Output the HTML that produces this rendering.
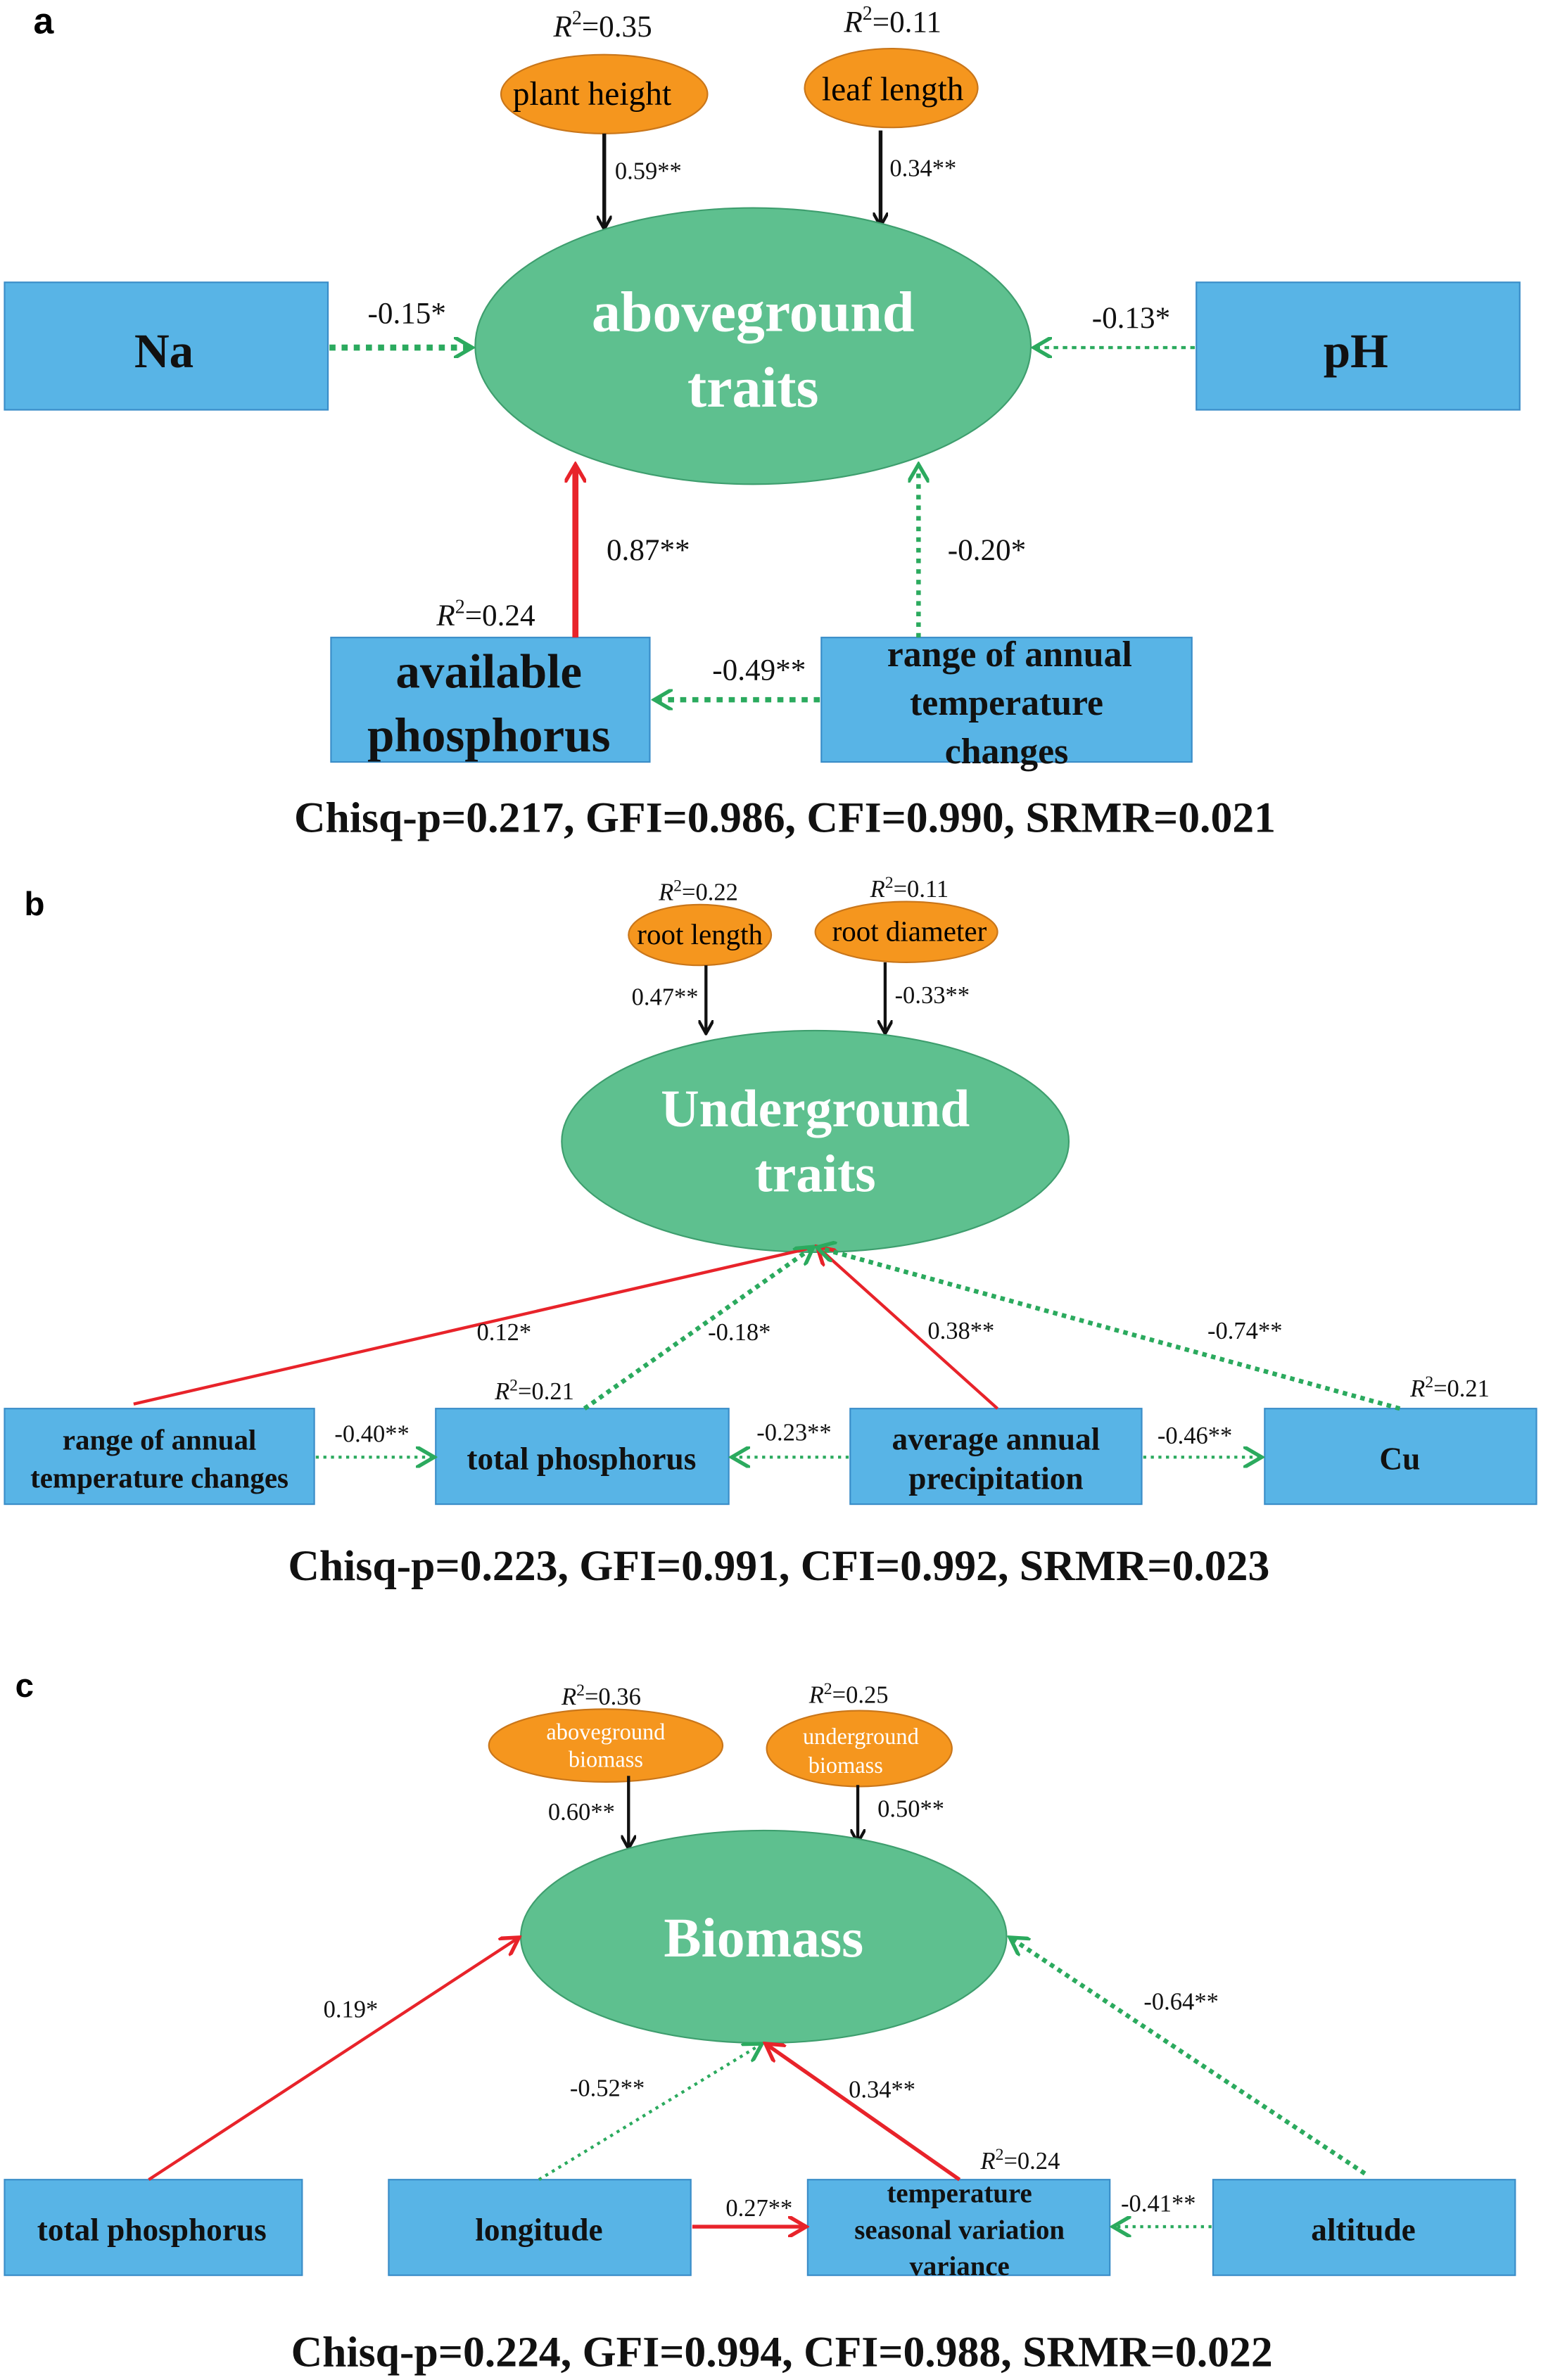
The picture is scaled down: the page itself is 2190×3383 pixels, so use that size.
<!DOCTYPE html>
<html><head><meta charset="utf-8"><style>
html,body{margin:0;padding:0;background:#fff}
svg{display:block}
text{font-family:"Liberation Serif",serif}
.lbl{font-size:20px;fill:#111}
.sm{font-size:16px;fill:#111}
.box{fill:#58B4E6;stroke:#3A8DC8;stroke-width:1}
.org{fill:#F5961E;stroke:#C9761A;stroke-width:1}
.big{fill:#5EC08F;stroke:#3E9E6E;stroke-width:1}
.wt{fill:#fff;font-weight:bold}
.bt{fill:#111;font-weight:bold}
</style></head><body>
<svg width="2190" height="3383" viewBox="0 0 1015 1568" preserveAspectRatio="none" xmlns="http://www.w3.org/2000/svg">
<defs>
<marker id="ab" markerWidth="10" markerHeight="10" refX="8" refY="5" orient="auto" markerUnits="userSpaceOnUse"><path d="M0,0 L9,5 L0,10" fill="none" stroke="#111" stroke-width="2"/></marker>
<marker id="ar" markerWidth="14" markerHeight="14" refX="11" refY="7" orient="auto" markerUnits="userSpaceOnUse"><path d="M0,0 L12,7 L0,14" fill="none" stroke="#E8232A" stroke-width="2.5"/></marker>
<marker id="ag" markerWidth="14" markerHeight="14" refX="11" refY="7" orient="auto" markerUnits="userSpaceOnUse"><path d="M0,0 L12,7 L0,14" fill="none" stroke="#2BAA5E" stroke-width="2.5"/></marker>
</defs>
<!-- Panel a -->
<text x="22" y="22" font-weight="bold" font-size="24" style="font-family:'Liberation Sans',sans-serif">a</text>
<text x="397" y="24" class="lbl" text-anchor="middle"><tspan font-style="italic">R</tspan><tspan font-size="13" dy="-8">2</tspan><tspan dy="8">=0.35</tspan></text>
<text x="588" y="21" class="lbl" text-anchor="middle"><tspan font-style="italic">R</tspan><tspan font-size="13" dy="-8">2</tspan><tspan dy="8">=0.11</tspan></text>
<ellipse cx="398" cy="62" rx="68" ry="26" class="org"/>
<text x="390" y="69" font-size="22" text-anchor="middle">plant height</text>
<ellipse cx="587" cy="58" rx="57" ry="26" class="org"/>
<text x="588" y="66" font-size="22" text-anchor="middle">leaf length</text>
<line x1="398" y1="88" x2="398" y2="150" stroke="#111" stroke-width="2.5" marker-end="url(#ab)"/>
<text x="405" y="118" class="sm" font-size="19">0.59**</text>
<line x1="580" y1="86" x2="580" y2="148" stroke="#111" stroke-width="2.5" marker-end="url(#ab)"/>
<text x="586" y="116" class="sm" font-size="19">0.34**</text>
<ellipse cx="496" cy="228" rx="183" ry="91" class="big"/>
<text x="496" y="218" class="wt" font-size="38" text-anchor="middle">aboveground</text>
<text x="496" y="268" class="wt" font-size="38" text-anchor="middle">traits</text>
<rect x="3" y="186" width="213" height="84" class="box"/>
<text x="108" y="242" class="bt" font-size="32" text-anchor="middle">Na</text>
<rect x="788" y="186" width="213" height="84" class="box"/>
<text x="893" y="242" class="bt" font-size="32" text-anchor="middle">pH</text>
<line x1="217" y1="229" x2="310" y2="229" stroke="#2BAA5E" stroke-width="4" stroke-dasharray="4,4" marker-end="url(#ag)"/>
<text x="268" y="213" class="lbl" font-size="23" text-anchor="middle">-0.15*</text>
<line x1="787" y1="229" x2="682" y2="229" stroke="#2BAA5E" stroke-width="2" stroke-dasharray="3,3" marker-end="url(#ag)"/>
<text x="745" y="216" class="lbl" font-size="23" text-anchor="middle">-0.13*</text>
<rect x="218" y="420" width="210" height="82" class="box"/>
<text x="322" y="453" class="bt" font-size="32" text-anchor="middle">available</text>
<text x="322" y="495" class="bt" font-size="32" text-anchor="middle">phosphorus</text>
<text x="320" y="412" class="lbl" text-anchor="middle"><tspan font-style="italic">R</tspan><tspan font-size="13" dy="-8">2</tspan><tspan dy="8">=0.24</tspan></text>
<line x1="379" y1="420" x2="379" y2="307" stroke="#E8232A" stroke-width="4" marker-end="url(#ar)"/>
<text x="427" y="369" class="lbl" font-size="24" text-anchor="middle">0.87**</text>
<rect x="541" y="420" width="244" height="82" class="box"/>
<text x="665" y="439" class="bt" font-size="24" text-anchor="middle">range of annual</text>
<text x="663" y="471" class="bt" font-size="24" text-anchor="middle">temperature</text>
<text x="663" y="503" class="bt" font-size="24" text-anchor="middle">changes</text>
<line x1="605" y1="420" x2="605" y2="307" stroke="#2BAA5E" stroke-width="3" stroke-dasharray="3,4" marker-end="url(#ag)"/>
<text x="650" y="369" class="lbl" font-size="24" text-anchor="middle">-0.20*</text>
<line x1="540" y1="461" x2="432" y2="461" stroke="#2BAA5E" stroke-width="3.5" stroke-dasharray="4,4" marker-end="url(#ag)"/>
<text x="500" y="448" class="lbl" font-size="24" text-anchor="middle">-0.49**</text>
<text x="517" y="548" class="bt" font-size="28.6" text-anchor="middle">Chisq-p=0.217, GFI=0.986, CFI=0.990, SRMR=0.021</text>

<!-- Panel b -->
<text x="16" y="603" font-weight="bold" font-size="22" style="font-family:'Liberation Sans',sans-serif">b</text>
<text x="460" y="593" class="sm" text-anchor="middle"><tspan font-style="italic">R</tspan><tspan font-size="11" dy="-6">2</tspan><tspan dy="6">=0.22</tspan></text>
<text x="599" y="591" class="sm" text-anchor="middle"><tspan font-style="italic">R</tspan><tspan font-size="11" dy="-6">2</tspan><tspan dy="6">=0.11</tspan></text>
<ellipse cx="461" cy="616" rx="47" ry="20" class="org"/>
<text x="461" y="622" font-size="19" text-anchor="middle">root length</text>
<ellipse cx="597" cy="614" rx="60" ry="20" class="org"/>
<text x="599" y="620" font-size="19" text-anchor="middle">root diameter</text>
<line x1="465" y1="636" x2="465" y2="680" stroke="#111" stroke-width="2" marker-end="url(#ab)"/>
<text x="438" y="662" class="sm" text-anchor="middle">0.47**</text>
<line x1="583" y1="634" x2="583" y2="680" stroke="#111" stroke-width="2" marker-end="url(#ab)"/>
<text x="614" y="661" class="sm" text-anchor="middle">-0.33**</text>
<ellipse cx="537" cy="752" rx="167" ry="73" class="big"/>
<text x="537" y="742" class="wt" font-size="35" text-anchor="middle">Underground</text>
<text x="537" y="785" class="wt" font-size="35" text-anchor="middle">traits</text>
<rect x="3" y="928" width="204" height="63" class="box"/>
<text x="105" y="955" class="bt" font-size="19" text-anchor="middle">range of annual</text>
<text x="105" y="980" class="bt" font-size="19" text-anchor="middle">temperature changes</text>
<rect x="287" y="928" width="193" height="63" class="box"/>
<text x="383" y="968" class="bt" font-size="21" text-anchor="middle">total phosphorus</text>
<rect x="560" y="928" width="192" height="63" class="box"/>
<text x="656" y="955" class="bt" font-size="21" text-anchor="middle">average annual</text>
<text x="656" y="981" class="bt" font-size="21" text-anchor="middle">precipitation</text>
<rect x="833" y="928" width="179" height="63" class="box"/>
<text x="922" y="968" class="bt" font-size="21" text-anchor="middle">Cu</text>
<line x1="88" y1="925" x2="535" y2="822" stroke="#E8232A" stroke-width="2"/>
<text x="332" y="883" class="sm" font-size="18" text-anchor="middle">0.12*</text>
<line x1="385" y1="928" x2="535" y2="822" stroke="#2BAA5E" stroke-width="3" stroke-dasharray="3,3" marker-end="url(#ag)"/>
<text x="487" y="883" class="sm" font-size="18" text-anchor="middle">-0.18*</text>
<line x1="657" y1="928" x2="539" y2="822" stroke="#E8232A" stroke-width="2" marker-end="url(#ar)"/>
<text x="633" y="882" class="sm" font-size="18" text-anchor="middle">0.38**</text>
<line x1="922" y1="928" x2="539" y2="822" stroke="#2BAA5E" stroke-width="3" stroke-dasharray="3,3" marker-end="url(#ag)"/>
<text x="820" y="882" class="sm" font-size="18" text-anchor="middle">-0.74**</text>
<text x="352" y="922" class="sm" text-anchor="middle"><tspan font-style="italic">R</tspan><tspan font-size="11" dy="-6">2</tspan><tspan dy="6">=0.21</tspan></text>
<text x="955" y="920" class="sm" text-anchor="middle"><tspan font-style="italic">R</tspan><tspan font-size="11" dy="-6">2</tspan><tspan dy="6">=0.21</tspan></text>
<line x1="208" y1="960" x2="285" y2="960" stroke="#2BAA5E" stroke-width="2" stroke-dasharray="2,3" marker-end="url(#ag)"/>
<text x="245" y="950" class="sm" font-size="19" text-anchor="middle">-0.40**</text>
<line x1="559" y1="960" x2="483" y2="960" stroke="#2BAA5E" stroke-width="2" stroke-dasharray="2,3" marker-end="url(#ag)"/>
<text x="523" y="949" class="sm" font-size="19" text-anchor="middle">-0.23**</text>
<line x1="753" y1="960" x2="830" y2="960" stroke="#2BAA5E" stroke-width="2" stroke-dasharray="2,3" marker-end="url(#ag)"/>
<text x="787" y="951" class="sm" font-size="19" text-anchor="middle">-0.46**</text>
<text x="513" y="1041" class="bt" font-size="28.6" text-anchor="middle">Chisq-p=0.223, GFI=0.991, CFI=0.992, SRMR=0.023</text>

<!-- Panel c -->
<text x="10" y="1118" font-weight="bold" font-size="22" style="font-family:'Liberation Sans',sans-serif">c</text>
<text x="396" y="1123" class="sm" text-anchor="middle"><tspan font-style="italic">R</tspan><tspan font-size="11" dy="-6">2</tspan><tspan dy="6">=0.36</tspan></text>
<text x="559" y="1122" class="sm" text-anchor="middle"><tspan font-style="italic">R</tspan><tspan font-size="11" dy="-6">2</tspan><tspan dy="6">=0.25</tspan></text>
<ellipse cx="399" cy="1150" rx="77" ry="24" class="org"/>
<text x="399" y="1146" font-size="15" fill="#fff" text-anchor="middle">aboveground</text>
<text x="399" y="1164" font-size="15" fill="#fff" text-anchor="middle">biomass</text>
<ellipse cx="566" cy="1152" rx="61" ry="25" class="org"/>
<text x="567" y="1149" font-size="15" fill="#fff" text-anchor="middle">underground</text>
<text x="557" y="1168" font-size="15" fill="#fff" text-anchor="middle">biomass</text>
<line x1="414" y1="1170" x2="414" y2="1217" stroke="#111" stroke-width="2" marker-end="url(#ab)"/>
<text x="383" y="1199" class="sm" font-size="18" text-anchor="middle">0.60**</text>
<line x1="565" y1="1176" x2="565" y2="1213" stroke="#111" stroke-width="2" marker-end="url(#ab)"/>
<text x="600" y="1197" class="sm" font-size="18" text-anchor="middle">0.50**</text>
<ellipse cx="503" cy="1276" rx="160" ry="70" class="big"/>
<text x="503" y="1289" class="wt" font-size="37" text-anchor="middle">Biomass</text>
<rect x="3" y="1436" width="196" height="63" class="box"/>
<text x="100" y="1476" class="bt" font-size="21" text-anchor="middle">total phosphorus</text>
<rect x="256" y="1436" width="199" height="63" class="box"/>
<text x="355" y="1476" class="bt" font-size="21" text-anchor="middle">longitude</text>
<rect x="532" y="1436" width="199" height="63" class="box"/>
<text x="632" y="1451" class="bt" font-size="18" text-anchor="middle">temperature</text>
<text x="632" y="1475" class="bt" font-size="18" text-anchor="middle">seasonal variation</text>
<text x="632" y="1499" class="bt" font-size="18" text-anchor="middle">variance</text>
<rect x="799" y="1436" width="199" height="63" class="box"/>
<text x="898" y="1476" class="bt" font-size="21" text-anchor="middle">altitude</text>
<line x1="98" y1="1436" x2="341" y2="1277" stroke="#E8232A" stroke-width="2" marker-end="url(#ar)"/>
<text x="231" y="1329" class="sm" font-size="19" text-anchor="middle">0.19*</text>
<line x1="355" y1="1436" x2="501" y2="1347" stroke="#2BAA5E" stroke-width="2" stroke-dasharray="2,3" marker-end="url(#ag)"/>
<text x="400" y="1381" class="sm" font-size="19" text-anchor="middle">-0.52**</text>
<line x1="632" y1="1436" x2="505" y2="1347" stroke="#E8232A" stroke-width="2.5" marker-end="url(#ar)"/>
<text x="581" y="1382" class="sm" font-size="19" text-anchor="middle">0.34**</text>
<line x1="899" y1="1432" x2="666" y2="1277" stroke="#2BAA5E" stroke-width="3" stroke-dasharray="3,3" marker-end="url(#ag)"/>
<text x="778" y="1324" class="sm" font-size="19" text-anchor="middle">-0.64**</text>
<line x1="456" y1="1467" x2="530" y2="1467" stroke="#E8232A" stroke-width="2.5" marker-end="url(#ar)"/>
<text x="500" y="1460" class="sm" font-size="19" text-anchor="middle">0.27**</text>
<line x1="798" y1="1467" x2="734" y2="1467" stroke="#2BAA5E" stroke-width="2" stroke-dasharray="2,3" marker-end="url(#ag)"/>
<text x="763" y="1457" class="sm" font-size="19" text-anchor="middle">-0.41**</text>
<text x="672" y="1429" class="sm" text-anchor="middle"><tspan font-style="italic">R</tspan><tspan font-size="11" dy="-6">2</tspan><tspan dy="6">=0.24</tspan></text>
<text x="515" y="1559" class="bt" font-size="28.6" text-anchor="middle">Chisq-p=0.224, GFI=0.994, CFI=0.988, SRMR=0.022</text>
</svg>
</body></html>
